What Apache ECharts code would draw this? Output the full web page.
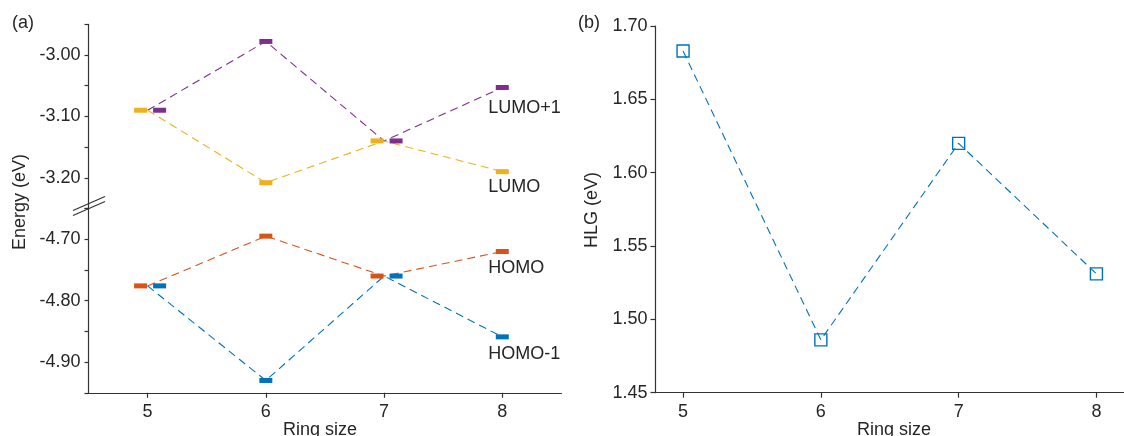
<!DOCTYPE html>
<html>
<head>
<meta charset="utf-8">
<title>Frontier orbital energies vs ring size</title>
<script src="https://cdn.jsdelivr.net/npm/echarts@6/dist/echarts.min.js"></script>
<style>
  html, body { margin: 0; padding: 0; background: #ffffff; }
  #chart { width: 1124px; height: 436px; }
</style>
</head>
<body>
<div id="chart"></div>
<script>
// ---- data ----
const ringSizes = [5, 6, 7, 8];
const lumoPlus1 = [-3.090, -2.978, -3.140, -3.053];
const lumo      = [-3.090, -3.208, -3.140, -3.190];
const homo      = [-4.776, -4.695, -4.760, -4.720];
const homoMinus1 = [-4.776, -4.930, -4.760, -4.859];
const hlg       = [1.683, 1.486, 1.620, 1.531];

// ---- style ----
const FONT = '"Liberation Sans", Arial, Helvetica, sans-serif';
const INK = '#262626';
const AXIS = '#333333';
const FS = 18;
const COLORS = {
  lumoPlus1: '#7E2F8E',
  lumo: '#EDB120',
  homo: '#D95319',
  homoMinus1: '#0072BD'
};
const DASH = [8, 5];

// grid geometry (pixels)
const L_LEFT = 88.5, L_WIDTH = 472.9;
const L_TOP1 = 24.25, L_H = 184.25, L_TOP2 = 208.5;
const R_LEFT = 655.5, R_WIDTH = 478.4, R_TOP = 26, R_H = 366.7;

const chart = echarts.init(document.getElementById('chart'), null, { renderer: 'canvas' });

function energyLabel(v) {
  // only every 0.1 eV carries a label; the 0.05 ticks stay bare
  const k = Math.round(v * 20);
  return (k % 2 === 0) ? v.toFixed(2) : '';
}

function yAxisCommon(gridIndex, min, max) {
  return {
    gridIndex: gridIndex,
    type: 'value',
    min: min,
    max: max,
    interval: 0.05,
    axisLine: { show: true, lineStyle: { color: AXIS, width: 1.2 } },
    axisTick: { show: true, inside: false, length: 4, lineStyle: { color: AXIS, width: 1.2 } },
    axisLabel: {
      margin: 8, fontSize: FS, color: INK, fontFamily: FONT,
      formatter: energyLabel
    },
    splitLine: { show: false }
  };
}

function xAxisCommon(gridIndex, min, max, visible) {
  return {
    gridIndex: gridIndex,
    type: 'value',
    min: min,
    max: max,
    show: visible,
    axisLine: { show: true, onZero: false, lineStyle: { color: AXIS, width: 1.2 } },
    axisTick: { show: true, inside: false, length: 5, customValues: ringSizes, lineStyle: { color: AXIS, width: 1.2 } },
    axisLabel: { margin: 10, fontSize: FS, color: INK, fontFamily: FONT, customValues: ringSizes },
    splitLine: { show: false }
  };
}

// One orbital level: dashed connector through the ring sizes plus a short bar marker.
// Where two levels coincide the bars are nudged sideways so both stay visible.
function orbitalSeries(name, values, partner, side, color, gridIndex, labelDy) {
  const data = ringSizes.map(function (x, i) {
    const item = { value: [x, values[i]] };
    if (values[i] === partner[i]) {
      item.symbolOffset = side === 'low' ? [-7, 0] : [12, 0];
    }
    if (i === ringSizes.length - 1) {
      item.label = {
        show: true,
        position: 'bottom',
        align: 'left',
        distance: 4,
        offset: [-14, labelDy],
        formatter: name,
        fontSize: FS,
        color: INK,
        fontFamily: FONT
      };
    }
    return item;
  });
  return {
    name: name,
    type: 'line',
    xAxisIndex: gridIndex,
    yAxisIndex: gridIndex,
    data: data,
    symbol: 'rect',
    symbolSize: [13, 5],
    showSymbol: true,
    showAllSymbol: true,
    itemStyle: { color: color },
    lineStyle: { color: color, width: 1.1, type: DASH },
    emphasis: { disabled: true },
    z: 3
  };
}

const option = {
  animation: false,
  backgroundColor: '#ffffff',
  textStyle: { fontFamily: FONT, color: INK },
  grid: [
    { left: L_LEFT, top: L_TOP1, width: L_WIDTH, height: L_H, containLabel: false },
    { left: L_LEFT, top: L_TOP2, width: L_WIDTH, height: L_H, containLabel: false },
    { left: R_LEFT, top: R_TOP, width: R_WIDTH, height: R_H, containLabel: false }
  ],
  xAxis: [
    xAxisCommon(0, 4.5, 8.5, false),
    xAxisCommon(1, 4.5, 8.5, true),
    xAxisCommon(2, 4.8, 8.2, true)
  ],
  yAxis: [
    yAxisCommon(0, -3.25, -2.95),
    yAxisCommon(1, -4.95, -4.65),
    {
      gridIndex: 2,
      type: 'value',
      min: 1.45,
      max: 1.70,
      interval: 0.05,
      axisLine: { show: true, lineStyle: { color: AXIS, width: 1.2 } },
      axisTick: { show: true, inside: false, length: 5, lineStyle: { color: AXIS, width: 1.2 } },
      axisLabel: {
        margin: 8, fontSize: FS, color: INK, fontFamily: FONT,
        formatter: function (v) { return v.toFixed(2); }
      },
      splitLine: { show: false }
    }
  ],
  series: [
    orbitalSeries('LUMO+1', lumoPlus1, lumo, 'high', COLORS.lumoPlus1, 0, 5),
    orbitalSeries('LUMO', lumo, lumoPlus1, 'low', COLORS.lumo, 0, 0),
    orbitalSeries('HOMO', homo, homoMinus1, 'low', COLORS.homo, 1, 1),
    orbitalSeries('HOMO-1', homoMinus1, homo, 'high', COLORS.homoMinus1, 1, 2),
    {
      name: 'HLG',
      type: 'line',
      xAxisIndex: 2,
      yAxisIndex: 2,
      data: ringSizes.map(function (x, i) { return [x, hlg[i]]; }),
      symbol: 'rect',
      symbolSize: 12,
      showSymbol: true,
      itemStyle: { color: 'rgba(255,255,255,0)', borderColor: '#0072BD', borderWidth: 1.4 },
      lineStyle: { color: '#0072BD', width: 1.1, type: DASH },
      emphasis: { disabled: true },
      z: 3
    }
  ],
  graphic: [
    // axis break marks on the energy axis
    { type: 'line', shape: { x1: 73, y1: 210.5, x2: 105, y2: 196.5 }, style: { stroke: AXIS, lineWidth: 1.2 }, z: 10 },
    { type: 'line', shape: { x1: 73, y1: 215.5, x2: 105, y2: 201.5 }, style: { stroke: AXIS, lineWidth: 1.2 }, z: 10 },
    // panel tags
    { type: 'text', x: 12, y: 23, style: { text: '(a)', fontSize: FS, fontFamily: FONT, fill: INK, align: 'left', verticalAlign: 'middle' } },
    { type: 'text', x: 578, y: 23, style: { text: '(b)', fontSize: FS, fontFamily: FONT, fill: INK, align: 'left', verticalAlign: 'middle' } },
    // axis titles
    { type: 'text', x: 20, y: 202, rotation: Math.PI / 2, style: { text: 'Energy (eV)', fontSize: FS, fontFamily: FONT, fill: INK, align: 'center', verticalAlign: 'middle' } },
    { type: 'text', x: 592, y: 210, rotation: Math.PI / 2, style: { text: 'HLG (eV)', fontSize: FS, fontFamily: FONT, fill: INK, align: 'center', verticalAlign: 'middle' } },
    { type: 'text', x: 320, y: 421, style: { text: 'Ring size', fontSize: FS, fontFamily: FONT, fill: INK, align: 'center', verticalAlign: 'top' } },
    { type: 'text', x: 894, y: 421, style: { text: 'Ring size', fontSize: FS, fontFamily: FONT, fill: INK, align: 'center', verticalAlign: 'top' } }
  ]
};

chart.setOption(option);
</script>
</body>
</html>
